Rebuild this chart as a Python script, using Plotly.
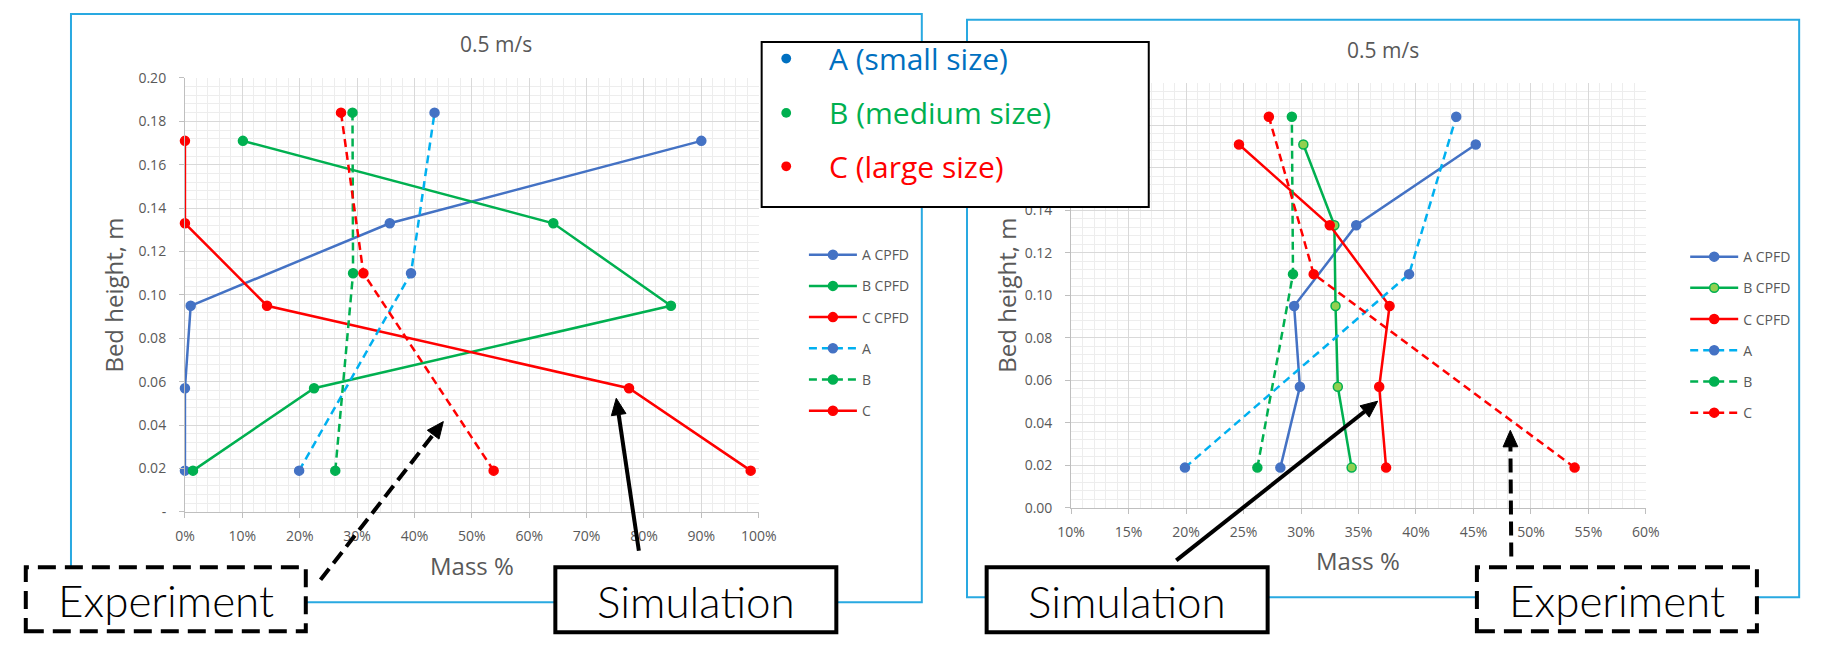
import math
import plotly.graph_objects as go

# ---- data -------------------------------------------------------------
heights_cpfd = [0.019, 0.057, 0.095, 0.133, 0.171]
heights_exp = [0.019, 0.110, 0.184]

# measured mass fraction (%) at each experimental height
exp_a = [19.9, 39.4, 43.5]
exp_b = [26.2, 29.3, 29.2]
exp_c = [53.8, 31.1, 27.2]

# CPFD results, first case
cpfd1_a = [0.0, 0.0, 1.0, 35.7, 90.0]
cpfd1_b = [1.4, 22.5, 84.7, 64.2, 10.1]
cpfd1_c = [98.6, 77.4, 14.3, 0.0, 0.0]

# CPFD results, second case
cpfd2_a = [28.2, 29.9, 29.4, 34.8, 45.2]
cpfd2_b = [34.4, 33.2, 33.0, 32.9, 30.2]
cpfd2_c = [37.4, 36.8, 37.7, 32.5, 24.6]

left_y_tickvals = [0, 0.02, 0.04, 0.06, 0.08, 0.10, 0.12, 0.14, 0.16, 0.18, 0.20]
left_y_ticktext = ["-", "0.02", "0.04", "0.06", "0.08", "0.10", "0.12", "0.14", "0.16", "0.18", "0.20"]
# upper labels of the right panel sit under the size key box
right_y_tickvals = [0, 0.02, 0.04, 0.06, 0.08, 0.10, 0.12, 0.14, 0.16, 0.18, 0.20]
right_y_ticktext = ["0.00", "0.02", "0.04", "0.06", "0.08", "0.10", "0.12", "0.14", "", "", ""]

size_labels = ["A (small size)", "B (medium size)", "C (large size)"]

# ---- styling ----------------------------------------------------------
W, H = 1826, 649
BLUE, LBLUE, GREEN, LGREEN, RED = "#4472C4", "#00B0F0", "#00B050", "#92D050", "#FF0000"
GREY = "#595959"
FONT = "Open Sans"
CALLOUT_FONT = "Lato"
DASH = "8px,5px"


def px(x):
    return x / W


def py(y):
    return 1 - y / H


fig = go.Figure()


def add_series(x, y, name, line_color, marker_color, dash, xa, ya, legend, group,
               marker_line=None, show=True):
    fig.add_trace(go.Scatter(
        x=x, y=y, name=name, mode="lines+markers",
        line=dict(color=line_color, width=2.5, dash=dash),
        marker=dict(size=9, color=marker_color,
                    line=dict(color=marker_line or marker_color, width=1.5)),
        xaxis=xa, yaxis=ya, legend=legend, legendgroup=group, showlegend=show,
        cliponaxis=False,
    ))


# left panel
add_series(cpfd1_a, heights_cpfd, "A CPFD", BLUE, BLUE, "solid", "x", "y", "legend", "l1")
add_series(cpfd1_b, heights_cpfd, "B CPFD", GREEN, GREEN, "solid", "x", "y", "legend", "l2")
add_series(cpfd1_c, heights_cpfd, "C CPFD", RED, RED, "solid", "x", "y", "legend", "l3")
add_series(exp_a, heights_exp, "A", LBLUE, BLUE, DASH, "x", "y", "legend", "l4")
add_series(exp_b, heights_exp, "B", GREEN, GREEN, DASH, "x", "y", "legend", "l5")
add_series(exp_c, heights_exp, "C", RED, RED, DASH, "x", "y", "legend", "l6", show=False)
# legend key for C in this panel is drawn with a solid line
add_series([None], [None], "C", RED, RED, "solid", "x", "y", "legend", "l6")

# right panel
add_series(cpfd2_a, heights_cpfd, "A CPFD", BLUE, BLUE, "solid", "x2", "y2", "legend2", "r1")
add_series(cpfd2_b, heights_cpfd, "B CPFD", GREEN, LGREEN, "solid", "x2", "y2", "legend2", "r2",
           marker_line=GREEN)
add_series(cpfd2_c, heights_cpfd, "C CPFD", RED, RED, "solid", "x2", "y2", "legend2", "r3")
add_series(exp_a, heights_exp, "A", LBLUE, BLUE, DASH, "x2", "y2", "legend2", "r4")
add_series(exp_b, heights_exp, "B", GREEN, GREEN, DASH, "x2", "y2", "legend2", "r5")
add_series(exp_c, heights_exp, "C", RED, RED, DASH, "x2", "y2", "legend2", "r6")

axis_common = dict(
    showgrid=True, gridcolor="#D9D9D9", gridwidth=1,
    zeroline=False, showline=True, linecolor="#BFBFBF", linewidth=1,
    ticks="outside", ticklen=5, tickcolor="#BFBFBF",
    tickfont=dict(family=FONT, size=14, color=GREY),
    fixedrange=True,
)

legend_common = dict(xanchor="left", yanchor="top", traceorder="grouped",
                     tracegroupgap=10, itemwidth=48, bgcolor="rgba(0,0,0,0)",
                     font=dict(family=FONT, size=14, color=GREY))

fig.update_layout(
    width=W, height=H,
    margin=dict(l=0, r=0, t=0, b=0),
    paper_bgcolor="white", plot_bgcolor="white",
    font=dict(family=FONT, color=GREY),
    xaxis=dict(domain=[px(174), px(758)], range=[0, 100], dtick=10, ticksuffix="%",
               anchor="y", ticklabelstandoff=6,
               minor=dict(dtick=2, showgrid=True, gridcolor="#EDEDED"), **axis_common),
    yaxis=dict(domain=[py(517), py(70)], range=[0, 0.2], tickvals=left_y_tickvals,
               ticktext=left_y_ticktext, anchor="x", ticklabelstandoff=10,
               minor=dict(dtick=0.004, showgrid=True, gridcolor="#EDEDED"), **axis_common),
    xaxis2=dict(domain=[px(1076), px(1661)], range=[10, 60], dtick=5, ticksuffix="%",
                anchor="y2", ticklabelstandoff=6,
                minor=dict(dtick=1, showgrid=True, gridcolor="#EDEDED"), **axis_common),
    yaxis2=dict(domain=[py(513), py(75)], range=[0, 0.2], tickvals=right_y_tickvals,
                ticktext=right_y_ticktext, anchor="x2", ticklabelstandoff=10,
                minor=dict(dtick=0.004, showgrid=True, gridcolor="#EDEDED"), **axis_common),
    legend=dict(x=px(804), y=py(236), **legend_common),
    legend2=dict(x=px(1701), y=py(238), **legend_common),
    showlegend=True,
)

shapes = []
annotations = []

# chart-area frames
for (x0, y0, x1, y1) in [(58, 4, 924, 610), (970, 10, 1817, 605)]:
    shapes.append(dict(type="rect", xref="paper", yref="paper", layer="below",
                       x0=px(x0), y0=py(y1), x1=px(x1), y1=py(y0),
                       line=dict(color="#29A9E1", width=2), fillcolor="rgba(0,0,0,0)"))

# panel titles and axis titles
for cx, cy in [(491, 35), (1393, 41)]:
    annotations.append(dict(text="0.5 m/s", x=px(cx), y=py(cy), xref="paper", yref="paper",
                            showarrow=False, xanchor="center", yanchor="middle",
                            font=dict(family=FONT, size=21, color=GREY)))
for cx, cy in [(466, 572), (1368, 567)]:
    annotations.append(dict(text="Mass %", x=px(cx), y=py(cy), xref="paper", yref="paper",
                            showarrow=False, xanchor="center", yanchor="middle",
                            font=dict(family=FONT, size=24, color=GREY)))
for cx, cy in [(101, 294), (1010, 294)]:
    annotations.append(dict(text="Bed height, m", x=px(cx), y=py(cy), xref="paper", yref="paper",
                            showarrow=False, xanchor="center", yanchor="middle", textangle=-90,
                            font=dict(family=FONT, size=24, color=GREY)))

# particle-size key box
shapes.append(dict(type="rect", xref="paper", yref="paper", layer="above",
                   x0=px(761), y0=py(203), x1=px(1155), y1=py(33),
                   line=dict(color="black", width=2), fillcolor="white"))
size_colors = ["#0070C0", GREEN, RED]
for label, color, cy in zip(size_labels, size_colors, [50, 106, 161]):
    shapes.append(dict(type="circle", xref="paper", yref="paper", layer="above",
                       x0=px(781), x1=px(791), y0=py(cy + 5), y1=py(cy - 5),
                       line=dict(width=0), fillcolor=color))
    annotations.append(dict(text=label, x=px(828), y=py(cy), xref="paper", yref="paper",
                            showarrow=False, xanchor="left", yanchor="middle",
                            font=dict(family=FONT, size=30, color=color)))

# callout boxes
callouts = [
    ("Experiment", (12, 574, 297, 640), True),
    ("Simulation", (551, 574, 837, 641), False),
    ("Simulation", (990, 574, 1276, 641), False),
    ("Experiment", (1489, 574, 1774, 640), True),
]
for text, (x0, y0, x1, y1), dashed in callouts:
    shapes.append(dict(type="rect", xref="paper", yref="paper", layer="above",
                       x0=px(x0), y0=py(y1), x1=px(x1), y1=py(y0), fillcolor="white",
                       line=dict(color="black", width=4, dash="18px,9px" if dashed else "solid")))
    annotations.append(dict(text=text, x=px((x0 + x1) / 2), y=py((y0 + y1) / 2 + 1),
                            xref="paper", yref="paper", showarrow=False,
                            xanchor="center", yanchor="middle",
                            font=dict(family=CALLOUT_FONT, size=44, color="black", weight=300)))

# callout arrows: (tail, tip, dashed)
arrows = [
    ((312, 587), (437, 424), True),
    ((636, 557), (613, 400), False),
    ((1183, 567), (1388, 403), False),
    ((1524, 563), (1523, 433), True),
]
head_len, head_w = 17, 15
for (sx, sy), (tx, ty), dashed in arrows:
    dx, dy = tx - sx, ty - sy
    n = math.hypot(dx, dy)
    ux, uy = dx / n, dy / n
    bx, by = tx - ux * head_len, ty - uy * head_len
    nx, ny = -uy, ux
    shapes.append(dict(type="line", xref="paper", yref="paper", layer="above",
                       x0=px(sx), y0=py(sy), x1=px(bx), y1=py(by),
                       line=dict(color="black", width=4, dash="14px,7px" if dashed else "solid")))
    p1 = (bx + nx * head_w / 2, by + ny * head_w / 2)
    p2 = (bx - nx * head_w / 2, by - ny * head_w / 2)
    path = "M{},{} L{},{} L{},{} Z".format(px(tx), py(ty), px(p1[0]), py(p1[1]),
                                          px(p2[0]), py(p2[1]))
    shapes.append(dict(type="path", xref="paper", yref="paper", layer="above", path=path,
                       fillcolor="black", line=dict(color="black", width=1)))

fig.update_layout(shapes=shapes, annotations=annotations)

# page without the default body margin so the figure fills the window exactly
fig.write_html(
    "out.html",
    post_script="document.body.style.margin='0';document.body.style.overflow='hidden';",
)
